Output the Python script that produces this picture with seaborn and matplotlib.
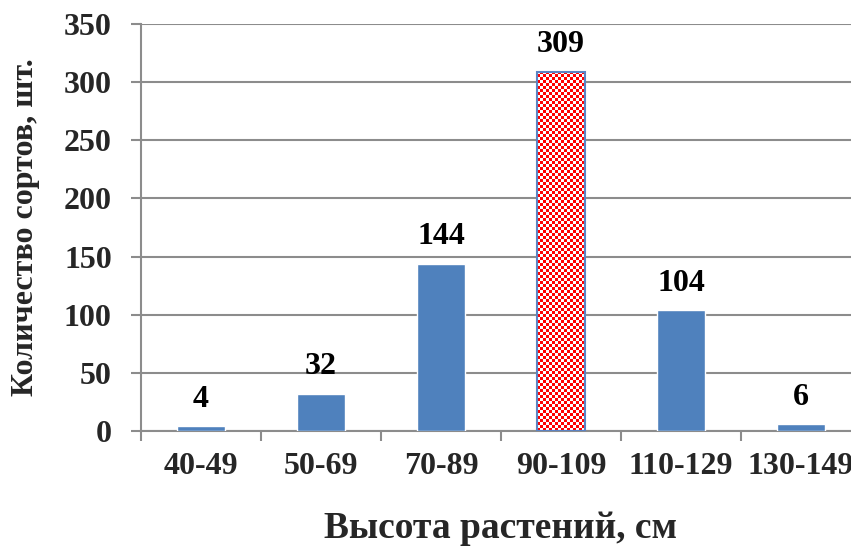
import numpy as np
import pandas as pd
import matplotlib
matplotlib.use("Agg")
import matplotlib.pyplot as plt
from matplotlib.colors import ListedColormap
import seaborn as sns

# Plant height classes and number of varieties in each
height_classes = ["40-49", "50-69", "70-89", "90-109", "110-129", "130-149"]
variety_counts = [4, 32, 144, 309, 104, 6]
highlight_class = "90-109"

y_ticks = [0, 50, 100, 150, 200, 250, 300, 350]

sns.set_theme(style="white")
plt.rcParams["font.family"] = ["Liberation Serif", "DejaVu Serif"]
plt.rcParams["font.weight"] = "bold"

BLUE = "#4F81BD"
GRID = "#8C8C8C"
FS = 23

df = pd.DataFrame({"class": height_classes, "count": variety_counts})

W, H, DPI = 851, 553, 100
fig = plt.figure(figsize=(W / DPI, H / DPI), dpi=DPI)
ax = fig.add_axes([141 / W, 1 - 431 / H, 720 / W, 407 / H])

sns.barplot(data=df, x="class", y="count", color=BLUE, saturation=1,
            width=0.4, ax=ax, zorder=3)

ax.set_ylim(0, 350)
ax.set_xlim(-0.5, len(height_classes) - 0.5)

# Checkered fill for the highlighted class
hi = height_classes.index(highlight_class)
patch = ax.patches[hi]
patch.set_facecolor("none")
patch.set_edgecolor("#5B83C4")
patch.set_linewidth(1.5)
patch.set_zorder(5)
x0, y0 = patch.get_x(), patch.get_y()
bw, bh = patch.get_width(), patch.get_height()
bbox = patch.get_window_extent(fig.canvas.get_renderer())
cell_px = 3.0
nx = max(1, int(round(bbox.width / cell_px)))
ny = max(1, int(round(bbox.height / cell_px)))
checker = (np.add.outer(np.arange(ny), np.arange(nx)) % 2).astype(float)
im = ax.imshow(checker, cmap=ListedColormap(["#FF0000", "#FFFFFF"]),
               extent=(x0, x0 + bw, y0, y0 + bh), origin="lower",
               interpolation="nearest", aspect="auto", zorder=4)
im.set_clip_path(patch)
ax.set_ylim(0, 350)
ax.set_xlim(-0.5, len(height_classes) - 0.5)

# Value labels above bars
for i, v in enumerate(variety_counts):
    ax.annotate(str(v), (i, v), xytext=(0, 9), textcoords="offset points",
                ha="center", va="bottom", fontsize=FS, fontweight="bold",
                color="black")

# Gridlines and spines
ax.set_yticks(y_ticks)
ax.set_yticklabels([str(t) for t in y_ticks], fontsize=FS, fontweight="bold")
ax.yaxis.grid(True, color=GRID, linewidth=1.5, zorder=0)
ax.set_axisbelow(True)
for s in ["top", "right"]:
    ax.spines[s].set_visible(False)
for s in ["left", "bottom"]:
    ax.spines[s].set_color(GRID)
    ax.spines[s].set_linewidth(1.5)

# Category labels at centres, tick marks at class boundaries
ax.set_xticks(np.arange(-0.5, len(height_classes), 1.0))
ax.set_xticklabels([])
ax.set_xticks(np.arange(len(height_classes)), minor=True)
ax.set_xticklabels(height_classes, minor=True, fontsize=FS, fontweight="bold")
ax.tick_params(axis="x", which="major", direction="out", length=7, width=1.5,
               color=GRID, bottom=True)
ax.tick_params(axis="x", which="minor", length=0, pad=15)
ax.tick_params(axis="y", direction="out", length=7, width=1.5, color=GRID,
               left=True, pad=14)

ax.set_xlabel("Высота растений, см", fontsize=27, fontweight="bold", labelpad=22)
ax.set_ylabel("Количество сортов, шт.", fontsize=FS, fontweight="bold", labelpad=17)

fig.savefig("out.png", dpi=DPI)
